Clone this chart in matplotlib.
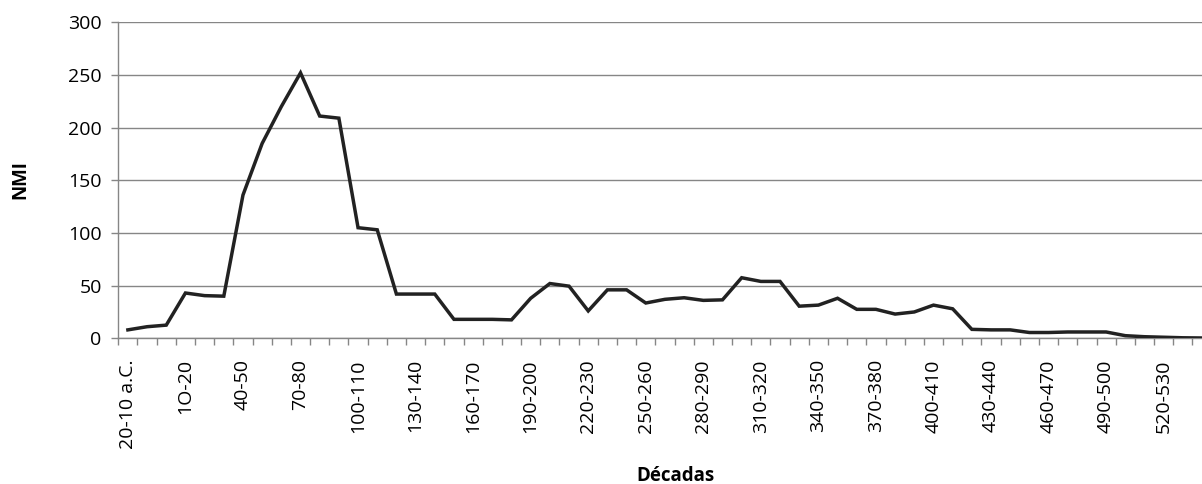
import matplotlib
matplotlib.use("Agg")
import matplotlib.pyplot as plt
from matplotlib.ticker import FixedLocator, NullFormatter

plt.rcParams['font.family'] = ['Open Sans', 'DejaVu Sans']

# Decade categories (label "1O-20" kept as written in the source table)
decades = (["20-10 a.C.", "10-0 a.C.", "0-10", "1O-20"]
           + [f"{s}-{s + 10}" for s in range(20, 550, 10)])

# NMI per decade
nmi = [8, 11, 12.5, 43, 40.5, 40, 136, 185, 220, 252,
       211, 209, 105, 103, 42, 42, 42, 18, 18, 18,
       17.5, 38, 52, 49.5, 26, 46, 46, 33.5, 37, 38.5,
       36, 36.5, 57.5, 54, 54, 30.5, 31.5, 38, 27.5, 27.5,
       23, 25, 31.5, 28, 8.5, 8, 8, 5.5, 5.5, 6,
       6, 6, 2.5, 1.5, 1, 0.5, 0.3]

y_ticks = [0, 50, 100, 150, 200, 250, 300]

W, H = 1202, 484
fig = plt.figure(figsize=(W / 100, H / 100), dpi=100)
ax = fig.add_axes([118.3 / W, (H - 338.3) / H, (W - 118.3) / W, 316.0 / H])

x = list(range(len(nmi)))
ax.plot(x, nmi, color="#222222", linewidth=2.5, solid_joinstyle="miter", zorder=3)

ax.set_xlim(-0.5, 56.0)
ax.set_ylim(0, 300)

# y axis
ax.set_yticks(y_ticks)
ax.set_yticklabels([str(v) for v in y_ticks])
ax.yaxis.grid(True, color="#868686", linewidth=1.0)
ax.set_axisbelow(True)
ax.tick_params(axis="y", length=5, width=1, color="#868686", pad=7,
               labelsize=14, labelcolor="black")

# x axis: labelled category every third decade, tick marks between categories
lab_idx = list(range(0, len(decades), 3))
ax.xaxis.set_major_locator(FixedLocator(lab_idx))
ax.set_xticklabels([decades[i] for i in lab_idx], rotation=90, fontsize=14)
ax.xaxis.set_minor_locator(FixedLocator([i - 0.5 for i in range(len(decades) + 1)]))
ax.xaxis.set_minor_formatter(NullFormatter())
ax.tick_params(axis="x", which="major", length=0, pad=15, labelcolor="black")
ax.tick_params(axis="x", which="minor", length=5, width=1, color="#868686")

for side in ("top", "right"):
    ax.spines[side].set_visible(False)
for side in ("left", "bottom"):
    ax.spines[side].set_color("#868686")
    ax.spines[side].set_linewidth(1.0)

fig.text(20 / W, 1 - 180 / H, "NMI", rotation=90, ha="center", va="center",
         fontsize=13.5, fontweight="bold")
fig.text(676 / W, 1 - 476 / H, "Décadas", ha="center", va="center",
         fontsize=13.5, fontweight="bold")

fig.savefig("out.png", dpi=100)
